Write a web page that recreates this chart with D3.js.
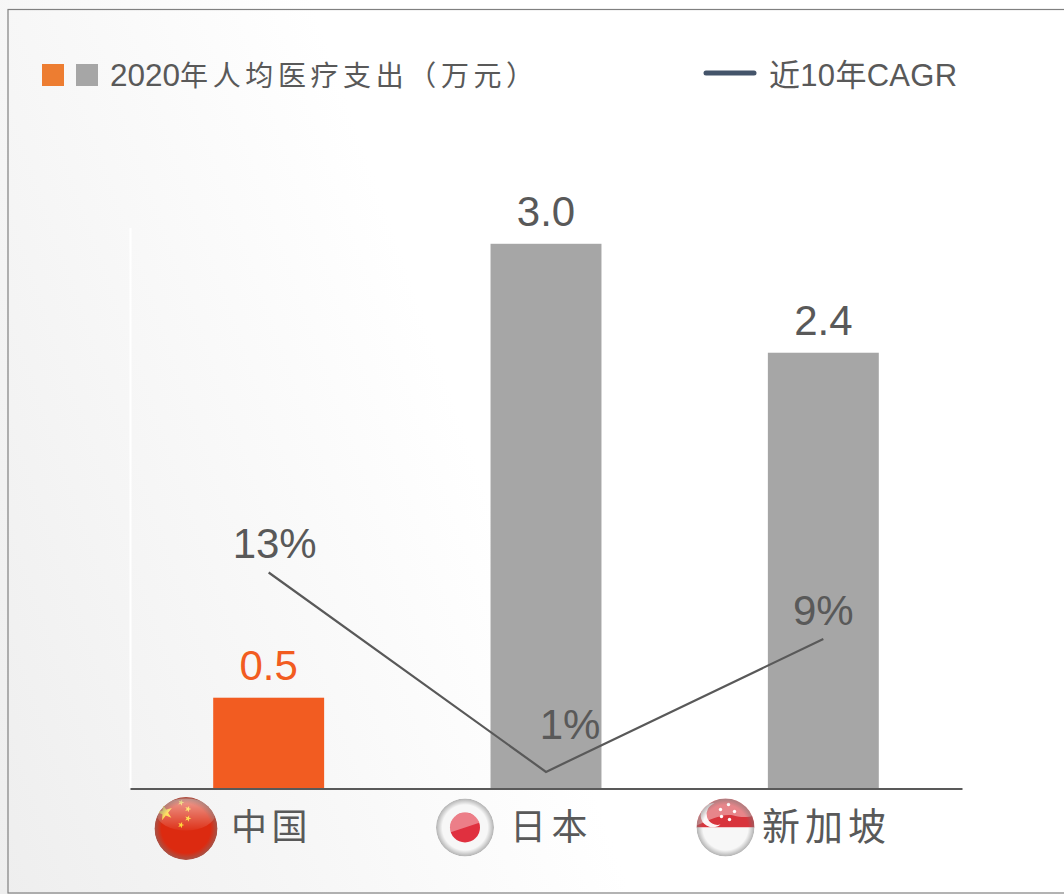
<!DOCTYPE html>
<html><head><meta charset="utf-8">
<script src="https://cdn.jsdelivr.net/npm/d3@7/dist/d3.min.js"></script>
<style>html,body{margin:0;padding:0;background:#f8f8f8;overflow:hidden}svg{display:block}
text{font-family:"Liberation Sans","Noto Sans CJK SC",sans-serif}</style></head><body>
<div id="chart"></div>
<script>
const categories = ["中国","日本","新加坡"];
const spending = [0.5,3.0,2.4];
const spendingLabels = ["0.5","3.0","2.4"];
const cagr = [13,1,9];
const cagrLabels = ["13%","1%","9%"];
const legendBarYear = "2020";
const legendBarRest = "年人均医疗支出（万元）";
const legendLine = "近10年CAGR";

const W=1064,H=894;
const svg=d3.select("#chart").append("svg").attr("width",W).attr("height",H);
const defs=svg.append("defs");
const bg=defs.append("linearGradient").attr("id","bg").attr("gradientUnits","userSpaceOnUse")
 .attr("x1",0).attr("y1",894).attr("x2",560).attr("y2",694);
bg.append("stop").attr("offset",0).attr("stop-color","#eeeeee");
bg.append("stop").attr("offset",1).attr("stop-color","#ffffff");
svg.append("rect").attr("width",W).attr("height",H).attr("fill","url(#bg)");
svg.append("rect").attr("x",8).attr("y",9.5).attr("width",W).attr("height",883.5)
 .attr("fill","none").attr("stroke","#808080").attr("stroke-width",1.2);

const x=d3.scaleBand().domain(categories).range([130,962]).paddingInner(0.6).paddingOuter(0.3);
const y=d3.scaleLinear().domain([0,3.5]).range([788.5,153]);
const y2=d3.scaleLinear().domain([0,38.25]).range([788.5,153]);
const cx=c=>x(c)+x.bandwidth()/2;
const barColors=["#f25c21","#a6a6a6","#a6a6a6"];
const textCol="#595959";

svg.append("line").attr("x1",130.5).attr("x2",130.5).attr("y1",228).attr("y2",788).attr("stroke","#ffffff").attr("stroke-width",2);

svg.selectAll("rect.bar").data(spending).join("rect").attr("class","bar")
 .attr("x",(d,i)=>x(categories[i])).attr("width",x.bandwidth())
 .attr("y",d=>y(d)).attr("height",d=>y(0)-y(d)).attr("fill",(d,i)=>barColors[i]);

svg.selectAll("text.val").data(spending).join("text").attr("class","val")
 .attr("x",(d,i)=>cx(categories[i])).attr("y",d=>y(d)-17.5).attr("text-anchor","middle")
 .attr("font-size",42).attr("fill",(d,i)=>i==0?"#f25c21":textCol).text((d,i)=>spendingLabels[i]);

const axis=d3.axisBottom(x).tickSize(0).tickFormat("");
const ag=svg.append("g").attr("transform","translate(0,788.5)").call(axis);
ag.select(".domain").attr("stroke","#595959").attr("stroke-width",2);

const line=d3.line().x((d,i)=>cx(categories[i])).y(d=>y2(d));
svg.append("path").datum(cagr).attr("d",line).attr("fill","none").attr("stroke","#595959").attr("stroke-width",2.2);

const cagrLabelOffset=[[6,-15],[24,-33],[0,-14]];
svg.selectAll("text.cg").data(cagr).join("text").attr("class","cg")
 .attr("x",(d,i)=>cx(categories[i])+cagrLabelOffset[i][0]).attr("y",(d,i)=>y2(d)+cagrLabelOffset[i][1])
 .attr("text-anchor","middle").attr("font-size",42).attr("fill",textCol).text((d,i)=>cagrLabels[i]);

// category labels
const labelX=[231,510,762];
const labelSize=[36,36,38];
const labelGap=[4.5,5.5,5];
svg.selectAll("text.cat").data(categories).join("text").attr("class","cat")
 .attr("x",(d,i)=>labelX[i]).attr("y",840)
 .attr("font-size",(d,i)=>labelSize[i]).attr("letter-spacing",(d,i)=>labelGap[i]+"px")
 .attr("fill",textCol).text(d=>d);

// legend
svg.append("rect").attr("x",42).attr("y",64).attr("width",22).attr("height",22).attr("fill","#ed7d31");
svg.append("rect").attr("x",76).attr("y",64).attr("width",22).attr("height",22).attr("fill","#a6a6a6");
const lt=svg.append("text").attr("x",110).attr("y",86).attr("fill",textCol);
lt.append("tspan").attr("font-size",31.5).text(legendBarYear);
lt.append("tspan").attr("font-size",28).attr("letter-spacing","4.6px").text(legendBarRest);
svg.append("line").attr("x1",706).attr("x2",754).attr("y1",73).attr("y2",73).attr("stroke","#44546a").attr("stroke-width",5).attr("stroke-linecap","round");
svg.append("text").attr("x",769).attr("y",86).attr("font-size",31).attr("letter-spacing","0.3px").attr("fill",textCol).text(legendLine);

// flags
function ball(id,cxp,cyp,r){
 const g=svg.append("g").attr("transform",`translate(${cxp},${cyp})`);
 defs.append("clipPath").attr("id","c"+id).append("circle").attr("r",r);
 const inner=g.append("g").attr("clip-path",`url(#c${id})`);
 return {g,inner};
}
const gloss=defs.append("linearGradient").attr("id","gloss").attr("x1",0).attr("x2",0).attr("y1",0).attr("y2",1);
gloss.append("stop").attr("offset",0).attr("stop-color","#fff").attr("stop-opacity",0.55);
gloss.append("stop").attr("offset",1).attr("stop-color","#fff").attr("stop-opacity",0.04);
const rim=defs.append("radialGradient").attr("id","rim");
rim.append("stop").attr("offset",0.78).attr("stop-color","#777").attr("stop-opacity",0);
rim.append("stop").attr("offset",1).attr("stop-color","#777").attr("stop-opacity",0.55);
const star=d3.symbol().type(d3.symbolStar);

// China
{const r=31.5,{g,inner}=ball("cn",186,828.5,r);
 inner.append("circle").attr("r",r).attr("fill","#dc2a10");
 [[-21,-16,75,-15],[-5,-26,13,20],[2,-19.5,13,20],[2,-10,13,20],[-5,-3.5,13,20]].forEach(s=>
  inner.append("path").attr("d",star.size(s[2])()).attr("transform",`translate(${s[0]},${s[1]}) rotate(${s[3]})`).attr("fill","#ffd21f"));
 inner.append("ellipse").attr("cy",-14).attr("rx",29).attr("ry",16).attr("fill","url(#gloss)");
 inner.append("circle").attr("r",r).attr("fill","url(#rim)");
}
// Japan
{const r=29,{g,inner}=ball("jp",465,827.5,r);
 inner.append("circle").attr("r",r).attr("fill","#f7f7f7");
 inner.append("circle").attr("r",15).attr("fill","#e0303f");
 const arc=d3.arc().innerRadius(0).outerRadius(15).startAngle(-Math.PI/2).endAngle(Math.PI/2);
 inner.append("path").attr("d",arc()).attr("fill","#fff").attr("fill-opacity",0.38).attr("transform","rotate(-18)");
 inner.append("circle").attr("r",r).attr("fill","url(#rim)");
}
// Singapore
{const r=29,{g,inner}=ball("sg",725.5,827.5,r);
 inner.append("rect").attr("x",-r).attr("y",-r).attr("width",2*r).attr("height",r).attr("fill","#d8343c");
 inner.append("rect").attr("x",-r).attr("y",0).attr("width",2*r).attr("height",r).attr("fill","#f7f7f7");
 inner.append("path").attr("d","M-11,-24 A12,12 0 1 0 -5,-3 A10,10 0 1 1 -11,-24Z").attr("fill","#fff").attr("fill-opacity",0.95);
 [[-5,-18],[3,-23],[-4,-11],[4,-8],[9,-16]].forEach(s=>
  inner.append("circle").attr("cx",s[0]).attr("cy",s[1]).attr("r",1.7).attr("fill","#fff"));
 inner.append("path").attr("d","M-29,-2 C-14,-8 -4,-14 8,-12 C16,-10 22,-10 29,-12 L29,-29 L-29,-29Z").attr("fill","#fff").attr("fill-opacity",0.4);
 inner.append("circle").attr("r",r).attr("fill","url(#rim)");
}
</script></body></html>
